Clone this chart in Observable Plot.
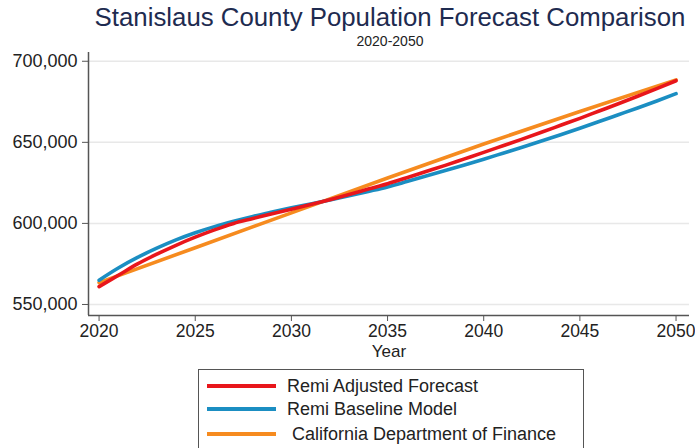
<!DOCTYPE html>
<html>
<head>
<meta charset="utf-8">
<script src="https://cdn.jsdelivr.net/npm/d3@7"></script>
<script src="https://cdn.jsdelivr.net/npm/@observablehq/plot@0.6"></script>
<style>
  html, body { margin: 0; padding: 0; background: #fff; }
  #wrap { position: relative; width: 695px; height: 448px; overflow: hidden; font-family: "Liberation Sans", Arial, sans-serif; }
  #title { position: absolute; left: 0; width: 780px; top: 3px; text-align: center; font-size: 25.8px; color: #1e2b50; white-space: nowrap; }
  #subtitle { position: absolute; left: 0; width: 780px; top: 33px; text-align: center; font-size: 14px; color: #222; }
  #chart { position: absolute; left: 0; top: 48px; }
  #legend { position: absolute; left: 198px; top: 369px; width: 386px; height: 90px; border: 1px solid #555; box-sizing: border-box; background: #fff; }
  .row { position: absolute; left: 0; height: 20px; }
  .sw { position: absolute; left: 8px; width: 69px; height: 4px; top: 8px; }
  .lb { position: absolute; left: 88px; top: 0; font-size: 18px; color: #222; white-space: pre; line-height: 20px; }
</style>
</head>
<body>
<div id="wrap">
  <div id="title">Stanislaus County Population Forecast Comparison</div>
  <div id="subtitle">2020-2050</div>
  <div id="chart"></div>
  <div id="legend"></div>
</div>
<script>
// ---- data ----
const yearsAnnual = [2020,2021,2022,2023,2024,2025,2026,2027,2028,2029,2030,2031,2032,2033,2034,2035,2036,2037,2038,2039,2040,2041,2042,2043,2044,2045,2046,2047,2048,2049,2050];
const years5 = [2020,2025,2030,2035,2040,2045,2050];
const remiAdjusted = [561000,568000,575000,581000,586500,591500,596000,600000,603000,606000,608800,611600,614600,617800,621200,624500,628200,632000,635800,639800,643800,647900,652000,656200,660500,664800,669300,673800,678400,683100,688000];
const remiBaseline = [565000,572500,579000,584700,589800,594200,598000,601300,604300,607000,609600,612000,614400,617000,619700,622500,625800,629200,632600,636000,639600,643300,647000,650800,654700,658700,662800,667000,671200,675500,680000];
const caDOF = [563500,585000,606500,628000,649000,669000,688500];
const seriesNames = ["Remi Adjusted Forecast","Remi Baseline Model"," California Department of Finance"];
const seriesColors = ["#e8161b","#1b8ec2","#f68b1f"];
const yTicks = [550000,600000,650000,700000];
const xTicks = [2020,2025,2030,2035,2040,2045,2050];

const rows = [];
yearsAnnual.forEach((y,i) => rows.push({year:y, value:remiAdjusted[i], series:seriesNames[0]}));
yearsAnnual.forEach((y,i) => rows.push({year:y, value:remiBaseline[i], series:seriesNames[1]}));
years5.forEach((y,i) => rows.push({year:y, value:caDOF[i], series:seriesNames[2]}));

const xDom = [2019.45, 2050.7];
const yDom = [543200, 705400];

const chart = Plot.plot({
  width: 695,
  height: 318,
  marginTop: 4,
  marginBottom: 51,
  marginLeft: 88,
  marginRight: 6,
  style: { fontFamily: "'Liberation Sans', Arial, sans-serif", fontSize: "17.5px", color: "#222", background: "transparent" },
  x: { domain: xDom },
  y: { domain: yDom },
  color: { domain: seriesNames, range: seriesColors },
  marks: [
    Plot.gridY(yTicks, { stroke: "#e8e8e8", strokeOpacity: 1, strokeWidth: 1.5 }),
    Plot.axisY(yTicks, { tickFormat: d3.format(","), tickSize: 6, tickPadding: 5, label: null, stroke: "#555", fontSize: 18 }),
    Plot.axisX(xTicks, { tickFormat: d => String(d), tickSize: 6, tickPadding: 3, label: null, stroke: "#555", fontSize: 17.5 }),
    Plot.ruleX([xDom[0]], { stroke: "#555", strokeWidth: 1.5 }),
    Plot.ruleY([yDom[0]], { stroke: "#555", strokeWidth: 1.5 }),
    Plot.text(["Year"], { frameAnchor: "bottom", dy: 41, fontSize: 17, fill: "#222" }),
    Plot.line(rows.filter(d => d.series === seriesNames[2]), { x: "year", y: "value", stroke: "series", strokeWidth: 3.6 }),
    Plot.line(rows.filter(d => d.series === seriesNames[1]), { x: "year", y: "value", stroke: "series", strokeWidth: 3.6, curve: "monotone-x" }),
    Plot.line(rows.filter(d => d.series === seriesNames[0]), { x: "year", y: "value", stroke: "series", strokeWidth: 3.6, curve: "monotone-x" })
  ]
});
document.getElementById("chart").appendChild(chart);

const leg = document.getElementById("legend");
const rowTops = [6, 29, 54];
seriesNames.forEach((n,i) => {
  const r = document.createElement("div");
  r.className = "row";
  r.style.top = rowTops[i] + "px";
  r.style.width = "380px";
  const s = document.createElement("div");
  s.className = "sw";
  s.style.background = seriesColors[i];
  const t = document.createElement("div");
  t.className = "lb";
  t.textContent = n;
  r.appendChild(s); r.appendChild(t);
  leg.appendChild(r);
});
</script>
</body>
</html>
